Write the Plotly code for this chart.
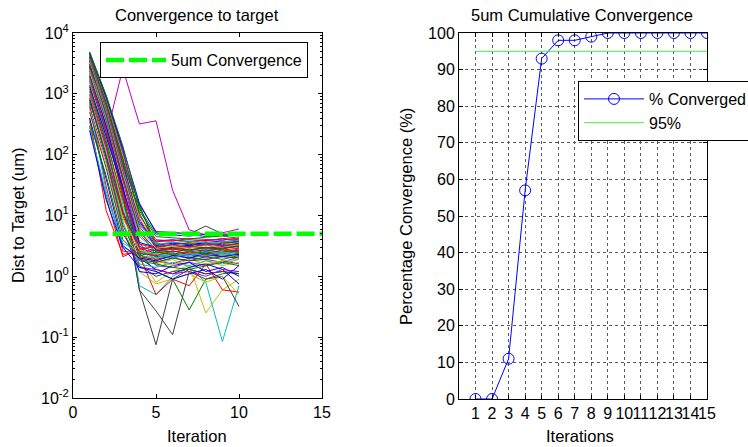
import plotly.graph_objects as go

# ---------------- data ----------------
iterations = [1, 2, 3, 4, 5, 6, 7, 8, 9, 10]

# distance to target (um) for each run, one row per run (iterations 1..10)
runs = [
    [4800, 900, 120, 9, 2.8, 3.0, 3.2, 2.9, 3.1, 3.3],
    [4500, 800, 100, 14, 3.5, 3.3, 3.6, 3.4, 3.2, 3.5],
    [4200, 600, 60, 5, 2.5, 2.8, 2.6, 3.0, 2.7, 2.9],
    [4000, 700, 80, 6, 2.2, 2.4, 2.1, 2.5, 2.3, 2.6],
    [2200, 200, 2600, 320, 360, 26, 5.8, 4.8, 5.2, 6.0],
    [3800, 500, 50, 4, 2.0, 2.2, 2.4, 2.1, 2.3, 2.0],
    [3000, 350, 25, 0.6, 0.075, 0.9, 1.3, 1.1, 1.2, 1.1],
    [3600, 650, 70, 8, 3.2, 3.5, 3.3, 3.6, 3.8, 3.4],
    [3500, 450, 40, 15, 3.0, 2.8, 3.1, 2.9, 3.3, 3.0],
    [400, 12, 2.3, 2.5, 2.7, 2.9, 3.1, 2.8, 3.0, 3.2],
    [3400, 250, 30, 0.7, 0.5, 1.0, 1.4, 0.8, 0.085, 0.7],
    [3300, 420, 45, 3.5, 1.8, 1.6, 2.0, 1.9, 1.7, 2.1],
    [3200, 380, 35, 2.0, 0.8, 1.2, 1.5, 0.25, 0.6, 0.9],
    [2800, 300, 22, 0.6, 0.27, 0.11, 1.2, 0.9, 1.0, 0.32],
    [2900, 550, 55, 7, 3.8, 4.0, 3.7, 3.9, 4.1, 3.8],
    [2700, 330, 28, 2.4, 1.2, 0.9, 0.28, 0.9, 1.1, 1.2],
    [2600, 280, 20, 2.2, 0.5, 0.9, 0.7, 1.6, 0.6, 0.55],
    [2500, 400, 50, 4.5, 2.6, 2.8, 3.0, 2.7, 2.9, 3.1],
    [2400, 350, 38, 3.2, 1.5, 1.4, 1.7, 1.5, 1.8, 1.6],
    [2300, 320, 32, 3.0, 1.6, 1.9, 1.4, 1.8, 1.5, 1.7],
    [4000, 700, 90, 15, 5.5, 5.2, 5.0, 6.7, 5.0, 4.8],
    [2000, 300, 30, 2.0, 1.3, 1.1, 1.4, 1.6, 1.3, 0.75],
    [1900, 250, 25, 2.6, 2.1, 2.3, 2.0, 2.2, 2.4, 2.2],
    [1800, 230, 22, 3.4, 2.9, 3.3, 3.5, 3.2, 3.6, 3.7],
    [1700, 200, 15, 2.8, 1.9, 2.1, 2.3, 2.0, 2.2, 2.4],
    [1600, 240, 26, 2.9, 2.4, 2.6, 2.3, 2.7, 2.5, 2.8],
    [1500, 180, 14, 1.2, 0.75, 0.9, 1.1, 0.8, 1.0, 0.5],
    [1400, 150, 12, 1.5, 1.0, 1.2, 1.3, 1.1, 1.2, 1.1],
    [1300, 200, 28, 3.6, 3.0, 3.4, 3.2, 3.5, 3.3, 3.9],
    [1200, 170, 18, 2.3, 1.7, 2.0, 1.8, 2.1, 1.9, 2.2],
    [1100, 140, 10, 2.1, 1.9, 2.2, 2.5, 2.3, 2.1, 2.4],
    [1000, 120, 8, 1.6, 1.4, 1.7, 1.5, 1.8, 1.6, 1.9],
    [950, 130, 12, 2.5, 2.2, 2.0, 2.3, 2.1, 2.4, 2.6],
    [900, 110, 9, 2.7, 2.3, 2.5, 2.8, 2.6, 2.4, 2.7],
    [850, 100, 11, 3.1, 2.6, 2.9, 2.7, 3.0, 2.8, 3.2],
    [800, 90, 6, 1.2, 1.1, 1.5, 1.7, 1.2, 1.4, 1.0],
    [750, 95, 7, 1.8, 1.6, 1.4, 1.3, 1.5, 1.7, 1.5],
    [700, 30, 2.6, 2.4, 2.2, 2.6, 2.4, 2.3, 2.5, 2.7],
    [650, 25, 3.0, 2.2, 2.0, 2.4, 2.2, 2.6, 2.3, 2.5],
    [600, 80, 6, 1.4, 1.3, 1.1, 1.2, 1.0, 1.3, 1.2],
    [550, 70, 5.5, 2.0, 1.8, 1.5, 1.9, 1.6, 1.8, 1.9],
    [500, 60, 5, 1.9, 1.7, 2.0, 1.8, 1.9, 2.1, 2.0],
    [400, 40, 3.2, 2.0, 1.8, 2.2, 2.0, 2.4, 2.1, 2.3],
    [350, 45, 4, 2.2, 2.5, 2.3, 2.6, 2.4, 2.7, 2.5],
    [300, 20, 2.1, 2.8, 3.1, 2.7, 3.0, 3.3, 2.9, 3.4],
    [280, 22, 3.5, 2.5, 2.3, 2.0, 2.4, 2.2, 2.5, 2.1],
    [4600, 850, 110, 10, 4.0, 3.8, 4.2, 4.0, 3.9, 4.3],
    [4400, 750, 95, 9, 3.6, 3.2, 3.5, 3.7, 3.4, 3.6],
    [4300, 720, 85, 11, 3.3, 3.6, 3.4, 3.2, 3.5, 3.7],
    [250, 18, 3.0, 1.4, 1.2, 0.9, 1.1, 1.3, 0.9, 1.5],
    [4100, 680, 75, 12, 4.5, 4.3, 4.1, 4.4, 4.6, 4.2],
    [3900, 620, 65, 8, 3.7, 3.9, 4.0, 3.8, 4.2, 4.0],
    [3700, 580, 58, 7.5, 3.4, 3.6, 3.8, 3.5, 3.7, 3.9],
    [3500, 540, 52, 6.5, 3.1, 3.3, 3.0, 3.4, 3.2, 3.4],
    [3300, 500, 48, 6, 2.9, 3.1, 2.9, 3.2, 3.0, 3.3],
    [3100, 470, 42, 5.5, 2.7, 2.5, 2.8, 2.6, 2.9, 3.1],
    [4700, 880, 130, 16, 5.2, 4.8, 4.6, 4.9, 4.7, 5.0],
    [4900, 950, 140, 13, 4.9, 5.3, 4.9, 4.5, 4.8, 4.6],
]

threshold_x = [1, 15]
threshold_um = [5, 5]

cum_iterations = list(range(1, 16))
pct_converged = [0, 0, 11, 57, 93, 98, 98, 99, 100, 100, 100, 100, 100, 100, 100]
target_pct = [95, 95]

log_tick_vals = [0.01, 0.1, 1, 10, 100, 1000, 10000]
log_tick_text = ["10<sup>-2</sup>", "10<sup>-1</sup>", "10<sup>0</sup>", "10<sup>1</sup>",
                 "10<sup>2</sup>", "10<sup>3</sup>", "10<sup>4</sup>"]

# MATLAB classic color order
line_colors = ["rgb(0,0,255)", "rgb(0,128,0)", "rgb(255,0,0)", "rgb(0,191,191)",
               "rgb(191,0,191)", "rgb(191,191,0)", "rgb(64,64,64)"]

FONT = "Liberation Sans, Arial, sans-serif"
FS = 16
TS = 16.5

fig = go.Figure()

for i, r in enumerate(runs):
    fig.add_trace(go.Scatter(
        x=iterations, y=r, mode="lines",
        line=dict(color=line_colors[i % 7], width=1),
        showlegend=False, hoverinfo="skip",
        xaxis="x", yaxis="y"))

fig.add_trace(go.Scatter(
    x=threshold_x, y=threshold_um, mode="lines", name="5um Convergence",
    line=dict(color="rgb(0,255,0)", width=4.5, dash="18px,5px"),
    xaxis="x", yaxis="y", legend="legend"))

fig.add_trace(go.Scatter(
    x=cum_iterations, y=pct_converged, mode="lines+markers", name="% Converged",
    line=dict(color="rgb(0,0,255)", width=1),
    marker=dict(symbol="circle-open", size=11, color="rgb(0,0,255)", line=dict(width=1)),
    xaxis="x2", yaxis="y2", legend="legend2"))

fig.add_trace(go.Scatter(
    x=[cum_iterations[0], cum_iterations[-1]], y=target_pct, mode="lines", name="95%",
    line=dict(color="rgb(70,235,70)", width=1),
    xaxis="x2", yaxis="y2", legend="legend2"))

minor_log = [k * 10 ** e for e in range(-2, 4) for k in range(2, 10)]

axis_common = dict(showline=True, linecolor="black", linewidth=1, mirror="ticks",
                   ticks="inside", ticklen=4, tickcolor="black", zeroline=False,
                   automargin=False,
                   tickfont=dict(family=FONT, size=FS, color="black"))

fig.update_layout(
    width=748, height=447,
    margin=dict(l=0, r=0, t=0, b=0, autoexpand=False),
    paper_bgcolor="white", plot_bgcolor="white",
    font=dict(family=FONT, size=FS, color="black"),
    xaxis=dict(domain=[73 / 748, 322 / 748], range=[0, 15], tickvals=[0, 5, 10, 15],
               showgrid=False, anchor="y", **axis_common),
    yaxis=dict(domain=[49 / 447, 414 / 447], type="log", range=[-2, 4],
               tickvals=log_tick_vals, ticktext=log_tick_text, showgrid=False,
               minor=dict(tickvals=minor_log, ticks="inside", ticklen=2, tickcolor="black",
                          showgrid=False),
               anchor="x", **axis_common),
    xaxis2=dict(domain=[459 / 748, 707 / 748], range=[0, 15], tickvals=cum_iterations,
                tickangle=0, showgrid=True, gridcolor="rgb(90,90,90)", griddash="dot",
                gridwidth=1, anchor="y2", **axis_common),
    yaxis2=dict(domain=[48 / 447, 414 / 447], range=[0, 100], dtick=10,
                showgrid=True, gridcolor="rgb(90,90,90)", griddash="dot", gridwidth=1,
                anchor="x2", **axis_common),
    legend=dict(x=100 / 748, y=1 - 42 / 447, xanchor="left", yanchor="top",
                bgcolor="white", bordercolor="black", borderwidth=1,
                font=dict(family=FONT, size=FS), itemwidth=60),
    legend2=dict(x=578 / 748, y=1 - 81 / 447, xanchor="left", yanchor="top",
                 bgcolor="white", bordercolor="black", borderwidth=1,
                 font=dict(family=FONT, size=FS), itemwidth=60),
    annotations=[
        dict(text="Convergence to target", x=197 / 748, y=1 - 15 / 447, xref="paper", yref="paper",
             showarrow=False, xanchor="center", yanchor="middle", font=dict(size=TS)),
        dict(text="Iteration", x=197 / 748, y=1 - 436 / 447, xref="paper", yref="paper",
             showarrow=False, xanchor="center", yanchor="middle", font=dict(size=TS)),
        dict(text="Dist to Target (um)", x=18 / 748, y=1 - 216 / 447, xref="paper", yref="paper",
             showarrow=False, xanchor="center", yanchor="middle", textangle=-90, font=dict(size=TS)),
        dict(text="5um Cumulative Convergence", x=582 / 748, y=1 - 15 / 447, xref="paper", yref="paper",
             showarrow=False, xanchor="center", yanchor="middle", font=dict(size=TS)),
        dict(text="Iterations", x=580 / 748, y=1 - 436 / 447, xref="paper", yref="paper",
             showarrow=False, xanchor="center", yanchor="middle", font=dict(size=TS)),
        dict(text="Percentage Convergence (%)", x=406 / 748, y=1 - 216 / 447, xref="paper", yref="paper",
             showarrow=False, xanchor="center", yanchor="middle", textangle=-90, font=dict(size=TS)),
    ],
)

fig.write_html("out.html", config={"displayModeBar": False},
               post_script="document.body.style.margin='0px';document.body.style.overflow='hidden';")
